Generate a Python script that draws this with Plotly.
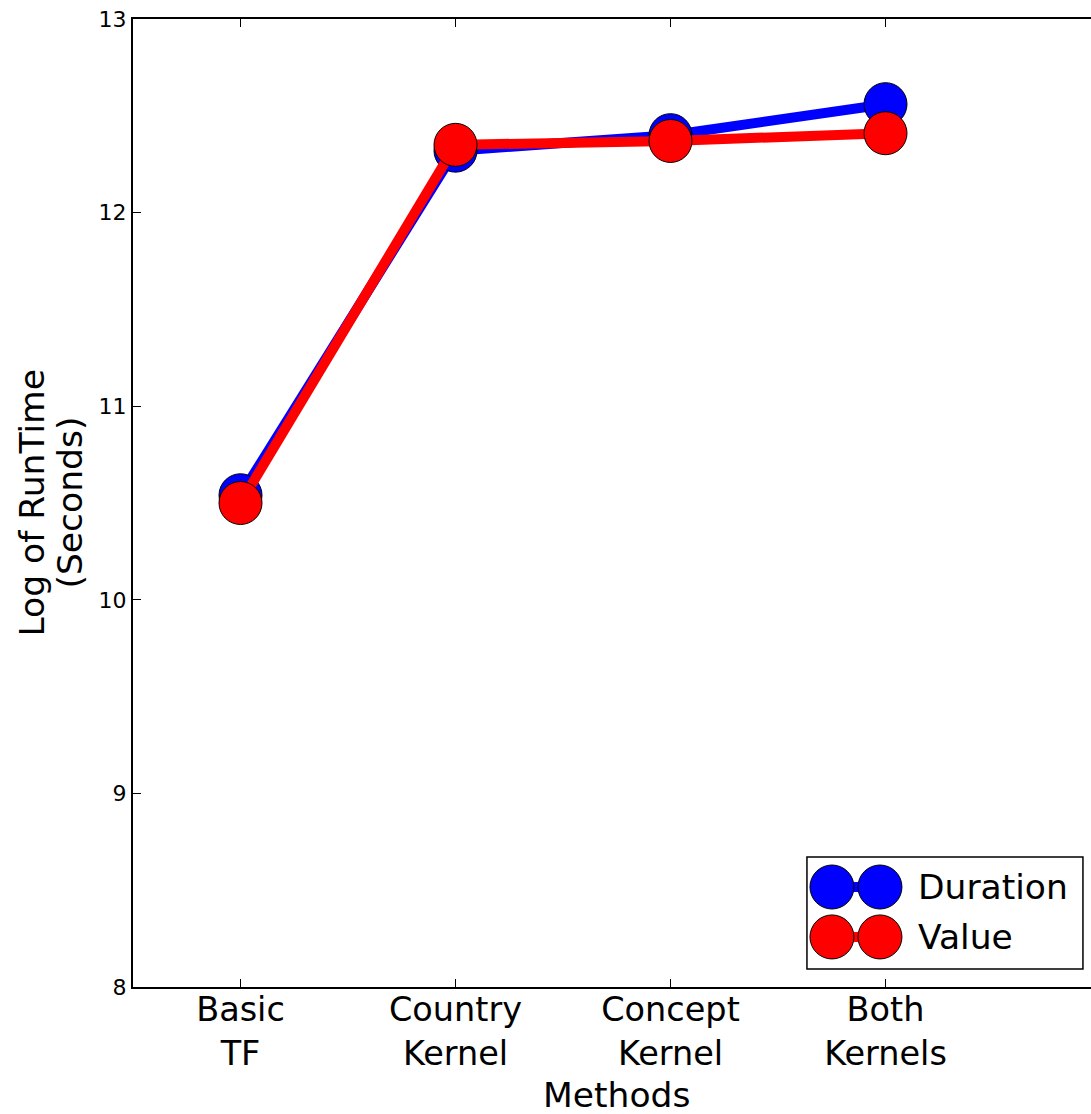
import plotly.graph_objects as go

# Methods compared and their log runtimes (seconds)
methods = ["Basic<br>TF", "Country<br>Kernel", "Concept<br>Kernel", "Both<br>Kernels"]
duration = [10.54, 12.32, 12.40, 12.56]
value = [10.50, 12.35, 12.37, 12.41]
series_names = ["Duration", "Value"]
series_colors = ["#0000ff", "#ff0000"]
y_title_lines = ["Log of RunTime", "(Seconds)"]
x_title = "Methods"

positions = list(range(1, len(methods) + 1))

fig = go.Figure()
for name, ys, col in zip(series_names, [duration, value], series_colors):
    fig.add_trace(go.Scatter(
        x=positions, y=ys, name=name, mode="lines+markers",
        line=dict(color=col, width=10),
        marker=dict(size=43, color=col, line=dict(color="black", width=1)),
        showlegend=False,
    ))

# Hand-built legend box in the lower right (two markers joined by a short line)
leg_x = [0.7296, 0.7797]
leg_y = [0.1033, 0.0517]
for name, col, yy in zip(series_names, series_colors, leg_y):
    fig.add_trace(go.Scatter(
        x=leg_x, y=[yy, yy], mode="lines+markers", xaxis="x2", yaxis="y2",
        line=dict(color=col, width=10),
        marker=dict(size=44, color=col, line=dict(color="black", width=1)),
        showlegend=False, hoverinfo="skip",
    ))
    fig.add_annotation(x=0.8175, y=yy, xref="paper", yref="paper", text=name,
                       showarrow=False, xanchor="left", yanchor="middle",
                       font=dict(size=34.5, color="black"))

fig.add_shape(type="rect", xref="paper", yref="paper",
              x0=0.7035, x1=0.9916, y0=0.0186, y1=0.1343,
              line=dict(color="black", width=1.5), fillcolor="white", layer="below")

fig.update_layout(
    width=1091, height=1114,
    margin=dict(l=133, r=0, t=19, b=127),
    paper_bgcolor="white", plot_bgcolor="white",
    font=dict(family="DejaVu Sans", color="black"),
    xaxis=dict(
        range=[0.5, 0.5 + 958 / 215], tickvals=positions, ticktext=methods,
        showgrid=False, zeroline=False, showline=True, linecolor="black", linewidth=2,
        mirror="ticks", ticks="inside", ticklen=8, tickcolor="black", tickwidth=1,
        tickfont=dict(size=33.5), ticklabelstandoff=-8,
    ),
    yaxis=dict(
        range=[8, 13], dtick=1, tick0=8,
        showgrid=False, zeroline=False, showline=True, linecolor="black", linewidth=2,
        ticks="inside", ticklen=8, tickcolor="black", tickwidth=1,
        tickfont=dict(size=22),
    ),
    xaxis2=dict(range=[0, 1], overlaying="x", visible=False, domain=[0, 1]),
    yaxis2=dict(range=[0, 1], overlaying="y", visible=False, domain=[0, 1]),
)

# Two-line y-axis title, each line placed separately for tighter line spacing
for line_text, px in zip(y_title_lines, [31.5, 69.5]):
    fig.add_annotation(x=(px - 133) / 958, y=0.5, xref="paper", yref="paper",
                       text=line_text, textangle=-90, showarrow=False,
                       xanchor="center", yanchor="middle", font=dict(size=34.5))

fig.add_annotation(x=0.505, y=(987 - 1094.5) / 968, xref="paper", yref="paper",
                   text=x_title, showarrow=False, xanchor="center", yanchor="middle",
                   height=38, valign="middle", font=dict(size=34.5))

fig.write_html("out.html")
